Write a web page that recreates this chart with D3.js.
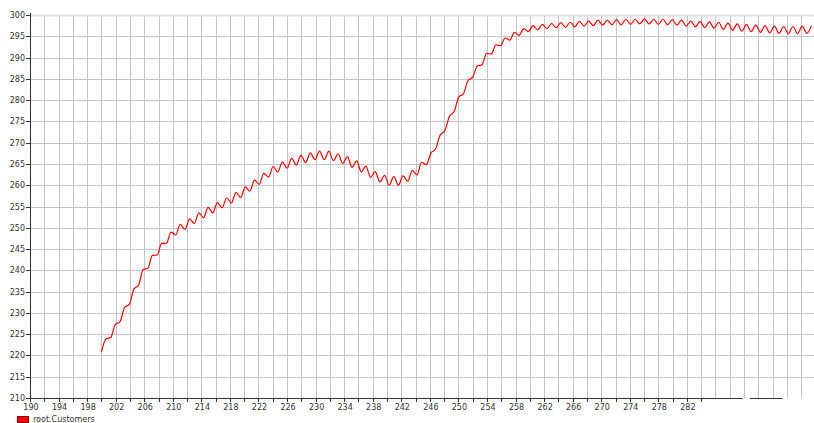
<!DOCTYPE html>
<html>
<head>
<meta charset="utf-8">
<script src="https://cdn.jsdelivr.net/npm/d3@7"></script>
<style>
  html, body { margin: 0; padding: 0; background: #fff; }
  svg { display: block; }
</style>
</head>
<body>
<div id="chart"></div>
<script>
// series: root.Customers, one value every 0.65 time units starting at 200
var seriesName = "root.Customers";
var timeStart = 200;
var timeStep = 0.65;
var customers = [
  220.8, 223.9, 224.2, 227.3, 227.9, 231.3, 232.0, 235.6, 236.5, 240.2,
  240.5, 243.5, 243.6, 246.4, 246.3, 249.0, 248.3, 250.8, 249.6, 252.1,
  251.0, 253.5, 252.4, 254.8, 253.5, 255.9, 254.7, 257.0, 255.8, 258.3,
  257.1, 259.6, 258.6, 261.2, 260.2, 262.8, 261.9, 264.4, 263.1, 265.5,
  264.0, 266.3, 264.7, 267.0, 265.3, 267.6, 266.0, 268.0, 266.0, 268.0,
  265.8, 267.4, 265.1, 266.7, 264.2, 265.7, 263.1, 264.5, 261.8, 263.2,
  260.8, 262.3, 260.0, 262.0, 260.0, 262.2, 260.9, 263.5, 262.4, 265.4,
  264.8, 267.6, 268.5, 271.8, 272.8, 276.2, 277.3, 280.7, 281.5, 284.6,
  285.4, 288.0, 288.3, 291.0, 290.8, 293.0, 292.8, 294.6, 294.1, 295.9,
  295.2, 296.8, 296.1, 297.5, 296.5, 297.8, 296.8, 298.0, 297.0, 298.2,
  297.1, 298.3, 297.2, 298.5, 297.4, 298.6, 297.5, 298.8, 297.6, 298.8,
  297.7, 298.9, 297.7, 299.0, 297.8, 299.0, 297.9, 299.1, 297.9, 299.0,
  297.8, 299.0, 297.7, 298.9, 297.6, 298.8, 297.4, 298.6, 297.2, 298.5,
  297.0, 298.4, 296.9, 298.3, 296.6, 298.1, 296.4, 297.9, 296.2, 297.8,
  296.1, 297.6, 295.9, 297.5, 295.8, 297.4, 295.7, 297.3, 295.6, 297.3,
  295.6, 297.4, 295.7, 297.5
];

var xDomain = [190, 299.8];
var yDomain = [210, 300];
var xTickLabels = [190, 194, 198, 202, 206, 210, 214, 218, 222, 226, 230, 234, 238,
                   242, 246, 250, 254, 258, 262, 266, 270, 274, 278, 282];
var xTickMarks = d3.range(190, 285, 2);
var xGrid = d3.range(192, 300, 2);
var yTicks = d3.range(210, 301, 5);

var width = 814, height = 423;
var plotLeft = 30, plotRight = 814, plotTop = 15, plotBottom = 398;

var svg = d3.select("#chart").append("svg")
    .attr("width", width)
    .attr("height", height)
    .style("font-family", "'DejaVu Sans', Verdana, sans-serif");

var xScale = d3.scaleLinear().domain(xDomain).range([plotLeft, plotRight]);
var yScale = d3.scaleLinear().domain(yDomain).range([plotBottom, plotTop]);

// grid
svg.append("g").selectAll("line")
    .data(xGrid)
   .enter().append("line")
    .attr("x1", function(d) { return Math.round(xScale(d)) + 0.5; })
    .attr("x2", function(d) { return Math.round(xScale(d)) + 0.5; })
    .attr("y1", plotTop)
    .attr("y2", plotBottom)
    .style("stroke", "#c4c4c4")
    .style("stroke-width", 1);

svg.append("g").selectAll("line")
    .data(yTicks.filter(function(d) { return d > 210; }))
   .enter().append("line")
    .attr("x1", plotLeft)
    .attr("x2", plotRight)
    .attr("y1", function(d) { return Math.round(yScale(d)) + 0.5; })
    .attr("y2", function(d) { return Math.round(yScale(d)) + 0.5; })
    .style("stroke", function(d) { return d === 300 ? "#e2e2e2" : "#c4c4c4"; })
    .style("stroke-width", function(d) { return d === 300 ? 2 : 1; });

// series line
var points = customers.map(function(v, i) { return [timeStart + i * timeStep, v]; });
var line = d3.line()
    .x(function(d) { return xScale(d[0]); })
    .y(function(d) { return yScale(d[1]); })
    .curve(d3.curveMonotoneX);

svg.append("path")
    .datum(points)
    .attr("d", line)
    .style("fill", "none")
    .style("stroke", "#ff0000")
    .style("stroke-width", 1.2);

// y axis
var axisColor = "#333";
svg.append("line")
    .attr("x1", plotLeft + 0.5).attr("x2", plotLeft + 0.5)
    .attr("y1", plotTop - 2).attr("y2", plotBottom)
    .style("stroke", axisColor);

svg.append("g").selectAll("line")
    .data(yTicks)
   .enter().append("line")
    .attr("x1", plotLeft - 4).attr("x2", plotLeft)
    .attr("y1", function(d) { return Math.round(yScale(d)) + 0.5; })
    .attr("y2", function(d) { return Math.round(yScale(d)) + 0.5; })
    .style("stroke", axisColor);

svg.append("g").selectAll("text")
    .data(yTicks)
   .enter().append("text")
    .attr("x", plotLeft - 5)
    .attr("y", function(d) { return yScale(d) + 3; })
    .attr("text-anchor", "end")
    .text(function(d) { return d; })
    .style("font-size", "8px")
    .style("fill", axisColor);

// x axis (line is broken near the end, as in the source)
var xAxisSegments = [[190, 289.8], [290.8, 295.4]];
svg.append("g").selectAll("line")
    .data(xAxisSegments)
   .enter().append("line")
    .attr("x1", function(d) { return xScale(d[0]); })
    .attr("x2", function(d) { return xScale(d[1]); })
    .attr("y1", plotBottom + 0.5).attr("y2", plotBottom + 0.5)
    .style("stroke", axisColor);

svg.append("g").selectAll("line")
    .data(xTickMarks)
   .enter().append("line")
    .attr("x1", function(d) { return Math.round(xScale(d)) + 0.5; })
    .attr("x2", function(d) { return Math.round(xScale(d)) + 0.5; })
    .attr("y1", plotBottom)
    .attr("y2", plotBottom + 4)
    .style("stroke", axisColor);

svg.append("g").selectAll("text")
    .data(xTickLabels)
   .enter().append("text")
    .attr("x", function(d) { return xScale(d) + 1; })
    .attr("y", plotBottom + 12)
    .attr("text-anchor", "middle")
    .text(function(d) { return d; })
    .style("font-size", "8px")
    .style("fill", axisColor);

// legend
svg.append("rect")
    .attr("x", 17.5).attr("y", 416.5)
    .attr("width", 11).attr("height", 6)
    .style("fill", "#ff0000")
    .style("stroke", "#8b0000");

svg.append("text")
    .attr("x", 33)
    .attr("y", 422)
    .text(seriesName)
    .style("font-size", "8px")
    .style("fill", axisColor);
</script>
</body>
</html>
